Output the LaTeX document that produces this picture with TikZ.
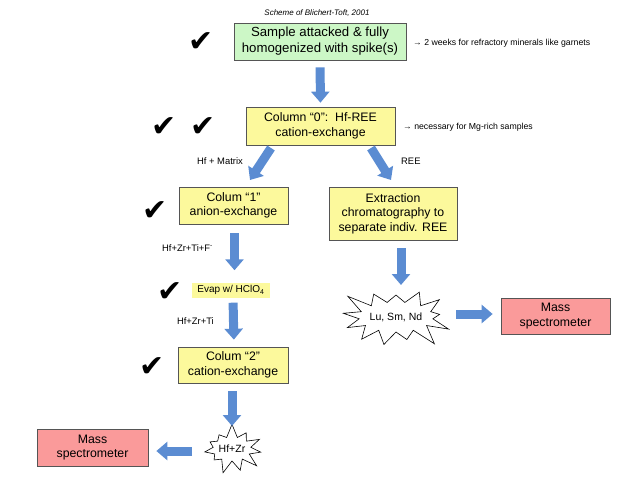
\documentclass[tikz,border=0pt]{standalone}
\usepackage{fontspec}
\setmainfont{Liberation Sans}
\newfontfamily\symfont{DejaVu Sans}
\usetikzlibrary{arrows.meta,shapes.symbols,calc}
\definecolor{yel}{HTML}{FCF99C}
\definecolor{grn}{HTML}{CCF7C6}
\definecolor{salmon}{HTML}{FA9A9A}
\definecolor{arrblue}{HTML}{5B8CD2}
\definecolor{bord}{HTML}{555555}
\begin{document}
\begin{tikzpicture}[x=1pt,y=-1pt,
  box/.style={draw=bord, line width=0.7pt, inner sep=0pt, align=center,
    font=\fontsize{12.3}{14.5}\selectfont},
  ybox/.style={box, fill=yel},
  gbox/.style={box, fill=grn, font=\fontsize{13.2}{16}\selectfont},
  rbox/.style={box, fill=salmon},
  chk/.style={font=\symfont\fontsize{30}{30}\selectfont, inner sep=0pt},
  lbl/.style={font=\fontsize{9.4}{11}\selectfont, inner sep=0pt},
  note/.style={font=\fontsize{8.7}{10}\selectfont, inner sep=0pt, anchor=west},
  burst/.style={starburst, draw=black, line width=0.6pt, fill=white, inner sep=0pt,
    font=\fontsize{10.5}{12}\selectfont},
  barrow/.style={line width=9pt, draw=arrblue, -{Triangle[width=18pt,length=11pt]}}
]
\useasboundingbox (0,0) rectangle (640,480);

\node[font=\itshape\fontsize{8}{9}\selectfont] (title) at (317,13) {Scheme of Blichert-Toft, 2001};

\node[gbox, minimum width=172pt, minimum height=37pt] (b1) at (320,41.5)
  {Sample attacked \& fully\\homogenized with spike(s)};
\node[note] (n1) at (413,43) {→ 2 weeks for refractory minerals like garnets};
\node[chk] (c1) at (201,42) {✔};

\node[ybox, minimum width=149pt, minimum height=38pt] (b2) at (320.5,126)
  {Column “0”:\ \ Hf-REE\\cation-exchange};
\node[note] (n2) at (403,127) {→ necessary for Mg-rich samples};
\node[chk] (c2a) at (164,127) {✔};
\node[chk] (c2b) at (203,127) {✔};

\node[ybox, minimum width=109pt, minimum height=37pt] (b3) at (233.5,205.5)
  {Colum “1”\\anion-exchange};
\node[chk] (c3) at (155,211) {✔};

\node[ybox, minimum width=128pt, minimum height=53pt] (b4) at (393,213.5)
  {Extraction\\chromatography to\\separate indiv. REE};

\node[fill=yel, inner sep=0pt, minimum width=78pt, minimum height=15pt,
  font=\fontsize{10}{12}\selectfont] (ev) at (231,290) {Evap w/ HClO\textsubscript{4}};
\node[chk] (c4) at (170,292) {✔};

\node[ybox, minimum width=110pt, minimum height=36pt] (b5) at (233,365)
  {Colum “2”\\cation-exchange};
\node[chk] (c5) at (152,367) {✔};

\node[burst, starburst points=11, starburst point height=14pt, random starburst=7,
  minimum width=66pt, minimum height=52pt] (s1) at (232,449) {Hf+Zr};
\node[burst, starburst points=13, starburst point height=22pt, random starburst=3,
  minimum width=88pt, minimum height=74pt] (s2) at (396,317) {Lu, Sm, Nd};

\node[rbox, minimum width=111pt, minimum height=37pt] (m1) at (92.5,447.5)
  {Mass\\spectrometer};
\node[rbox, minimum width=109pt, minimum height=36pt] (m2) at (555.5,316)
  {Mass\\spectrometer};

\node[lbl, anchor=east] (l1) at (243,161) {Hf + Matrix};
\node[lbl, anchor=west] (l2) at (401,161) {REE};
\node[lbl, anchor=east] (l3) at (213,248) {Hf+Zr+Ti+F\textsuperscript{-}};
\node[lbl, anchor=east] (l4) at (214,321) {Hf+Zr+Ti};

\coordinate (dl1) at (271,148);
\coordinate (dl2) at (250,180);
\coordinate (dr1) at (371,148);
\coordinate (dr2) at (391,180);

\draw[barrow, shorten <=7pt, shorten >=4pt] (b1.south) -- (b2.north);
\draw[barrow] (dl1) -- (dl2);
\draw[barrow] (dr1) -- (dr2);
\draw[barrow, shorten <=9pt, shorten >=12pt] ([xshift=1pt]b3.south) -- ([xshift=3.5pt]ev.north);
\draw[barrow, shorten <=5pt, shorten >=7pt] ([xshift=2pt]ev.south) -- ([xshift=1pt]b5.north);
\draw[barrow, shorten <=8pt] ([xshift=-1pt]b5.south) -- ($(s1.center)+(0,-23)$);
\draw[barrow, shorten <=8pt] ([xshift=8pt]b4.south) -- ($(s2.center)+(5,-32)$);
\draw[barrow, shorten >=8pt] ($(s1.center)+(-40,2)$) -- ([yshift=-3.5pt]m1.east);
\draw[barrow, shorten >=8pt] ($(s2.center)+(60,-3)$) -- ([yshift=2pt]m2.west);
\end{tikzpicture}
\end{document}
